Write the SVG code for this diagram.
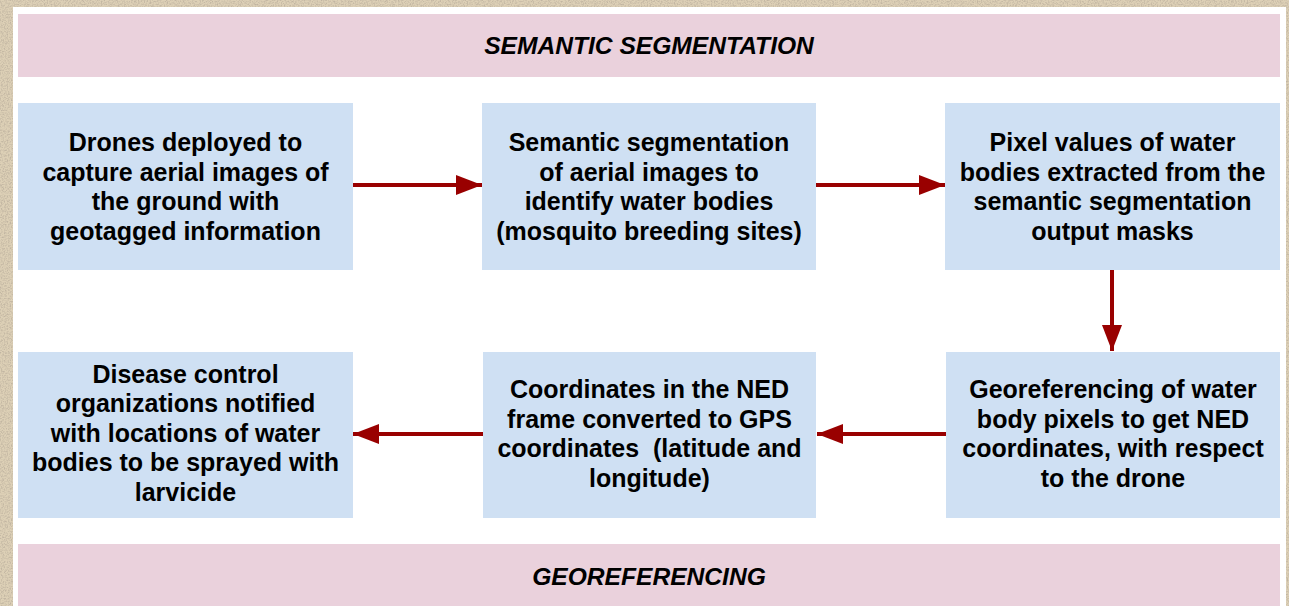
<svg xmlns="http://www.w3.org/2000/svg" width="1289" height="606" viewBox="0 0 1289 606">
  <style>
    .banner { fill: #ead1dc; }
    .box { fill: #cfe0f3; }
    .label { font-family: "Liberation Sans", Arial, sans-serif; font-weight: bold; font-size: 25px; fill: #000; text-anchor: middle; }
    .title { font-family: "Liberation Sans", Arial, sans-serif; font-weight: bold; font-style: italic; font-size: 24.6px; fill: #000; text-anchor: middle; }
    .flow { stroke: #990000; stroke-width: 4; fill: none; marker-end: url(#head); }
  </style>
  <defs>
    <marker id="head" markerUnits="userSpaceOnUse" markerWidth="26" markerHeight="22" refX="26" refY="11" orient="auto">
      <path d="M0,1 L26,11 L0,21 Z" fill="#990000"/>
    </marker>
    <filter id="grain" x="0" y="0" width="100%" height="100%">
      <feTurbulence type="fractalNoise" baseFrequency="0.7" numOctaves="4" seed="7" result="n"/>
      <feColorMatrix in="n" type="matrix" values="0 0 0 0 0.52  0 0 0 0 0.45  0 0 0 0 0.35  0 0 0 -2.4 1.45"/>
    </filter>
  </defs>

  <!-- parchment backdrop -->
  <rect x="0" y="0" width="1289" height="606" fill="#ddd0b6"/>
  <rect x="0" y="0" width="1289" height="606" filter="url(#grain)" opacity="0.9"/>

  <!-- white sheet -->
  <rect x="13" y="7" width="1273" height="599" fill="#ffffff"/>

  <!-- section banners -->
  <g id="banner-top">
    <rect class="banner" x="18" y="14" width="1262" height="63"/>
    <text class="title" x="649" y="54">SEMANTIC SEGMENTATION</text>
  </g>
  <g id="banner-bottom">
    <rect class="banner" x="18" y="544" width="1262" height="62"/>
    <text class="title" x="649" y="585">GEOREFERENCING</text>
  </g>

  <!-- process steps -->
  <g id="capture">
    <rect class="box" x="18" y="103" width="335" height="167"/>
    <text class="label" x="185.5" y="151">Drones deployed to</text>
    <text class="label" x="185.5" y="180.5">capture aerial images of</text>
    <text class="label" x="185.5" y="210">the ground with</text>
    <text class="label" x="185.5" y="239.5">geotagged information</text>
  </g>
  <g id="segment">
    <rect class="box" x="482" y="103" width="334" height="167"/>
    <text class="label" x="649" y="151">Semantic segmentation</text>
    <text class="label" x="649" y="180.5">of aerial images to</text>
    <text class="label" x="649" y="210">identify water bodies</text>
    <text class="label" x="649" y="239.5">(mosquito breeding sites)</text>
  </g>
  <g id="extract">
    <rect class="box" x="945" y="103" width="335" height="167"/>
    <text class="label" x="1112.5" y="151">Pixel values of water</text>
    <text class="label" x="1112.5" y="180.5">bodies extracted from the</text>
    <text class="label" x="1112.5" y="210">semantic segmentation</text>
    <text class="label" x="1112.5" y="239.5">output masks</text>
  </g>
  <g id="georef">
    <rect class="box" x="946" y="352" width="334" height="166"/>
    <text class="label" x="1113" y="398">Georeferencing of water</text>
    <text class="label" x="1113" y="427.5">body pixels to get NED</text>
    <text class="label" x="1113" y="457">coordinates, with respect</text>
    <text class="label" x="1113" y="486.5">to the drone</text>
  </g>
  <g id="convert">
    <rect class="box" x="483" y="352" width="333" height="166"/>
    <text class="label" x="649.5" y="398">Coordinates in the NED</text>
    <text class="label" x="649.5" y="427.5">frame converted to GPS</text>
    <text class="label" x="649.5" y="457" xml:space="preserve">coordinates  (latitude and</text>
    <text class="label" x="649.5" y="486.5">longitude)</text>
  </g>
  <g id="notify">
    <rect class="box" x="18" y="352" width="335" height="166"/>
    <text class="label" x="185.5" y="382.5">Disease control</text>
    <text class="label" x="185.5" y="412">organizations notified</text>
    <text class="label" x="185.5" y="441.5">with locations of water</text>
    <text class="label" x="185.5" y="471">bodies to be sprayed with</text>
    <text class="label" x="185.5" y="500.5">larvicide</text>
  </g>

  <!-- connectors -->
  <g id="connectors">
    <line class="flow" x1="353" y1="185" x2="482" y2="185"/>
    <line class="flow" x1="816" y1="185" x2="945" y2="185"/>
    <line class="flow" x1="1112" y1="270" x2="1112" y2="351"/>
    <line class="flow" x1="946" y1="434" x2="817" y2="434"/>
    <line class="flow" x1="483" y1="434" x2="353" y2="434"/>
  </g>
</svg>
